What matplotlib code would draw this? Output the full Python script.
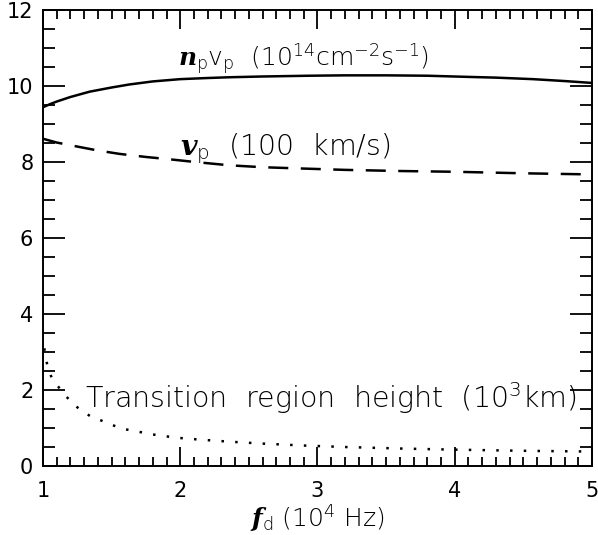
import matplotlib
matplotlib.use("Agg")
import matplotlib.pyplot as plt
from matplotlib.ticker import MultipleLocator

plt.rcParams["font.family"] = ["DejaVu Sans"]
plt.rcParams["font.weight"] = "light"
plt.rcParams["mathtext.fontset"] = "custom"
plt.rcParams["mathtext.rm"] = "DejaVu Sans:light"
plt.rcParams["mathtext.it"] = "DejaVu Serif:italic:bold"

# n_p v_p flux (10^14 cm^-2 s^-1)
flux_x = [1.0, 1.05, 1.1, 1.2, 1.34, 1.5, 1.63, 1.8, 2.0, 2.2, 2.36, 2.6, 2.94, 3.2,
          3.5, 3.8, 4.09, 4.3, 4.57, 4.8, 5.0]
flux_y = [9.45, 9.53, 9.6, 9.72, 9.86, 9.97, 10.05, 10.13, 10.19, 10.22, 10.24, 10.26,
          10.28, 10.29, 10.29, 10.28, 10.25, 10.23, 10.19, 10.14, 10.09]

# v_p (100 km/s)
vel_x = [1.0, 1.1, 1.27, 1.4, 1.56, 1.75, 1.92, 2.1, 2.36, 2.6, 2.85, 3.2, 3.6, 4.0,
         4.5, 5.0]
vel_y = [8.62, 8.52, 8.40, 8.31, 8.22, 8.14, 8.08, 8.01, 7.92, 7.87, 7.84, 7.80, 7.77,
         7.75, 7.71, 7.68]

# transition region height (10^3 km)
trh_x = [1.01, 1.02, 1.04, 1.07, 1.12, 1.17, 1.22, 1.28, 1.35, 1.43, 1.49, 1.57, 1.65,
         1.73, 1.80, 1.88, 1.96, 2.05, 2.20, 2.36, 2.60, 2.89, 3.2, 3.6, 4.0, 4.5, 5.0]
trh_y = [3.10, 2.84, 2.53, 2.27, 2.05, 1.83, 1.63, 1.46, 1.30, 1.19, 1.10, 0.99, 0.93,
         0.88, 0.83, 0.79, 0.75, 0.72, 0.68, 0.64, 0.59, 0.54, 0.50, 0.46, 0.43, 0.40,
         0.38]

fig = plt.figure(figsize=(5.98, 5.35), dpi=100)
ax = fig.add_axes([0.0719, 0.129, 0.918, 0.8515])

ax.plot(flux_x, flux_y, color="black", lw=1.8)
ax.plot(vel_x, vel_y, color="black", lw=1.8, dashes=(8, 5))
ax.plot(trh_x, trh_y, color="black", lw=1.8, dashes=(1, 4.5))

ax.set_xlim(1, 5)
ax.set_ylim(0, 12)
ax.xaxis.set_major_locator(MultipleLocator(1))
ax.xaxis.set_minor_locator(MultipleLocator(0.1))
ax.yaxis.set_major_locator(MultipleLocator(2))
ax.yaxis.set_minor_locator(MultipleLocator(0.5))

for side in ax.spines.values():
    side.set_linewidth(1.4)
ax.tick_params(axis="both", which="both", direction="in", top=True, right=True,
               width=1.3, labelsize=15)
ax.tick_params(axis="x", which="major", length=13.7, pad=11)
ax.tick_params(axis="x", which="minor", length=6.5)
ax.tick_params(axis="y", which="major", length=15.8, pad=7)
ax.tick_params(axis="y", which="minor", length=8.3)
for lab in ax.get_xticklabels() + ax.get_yticklabels():
    lab.set_fontweight("normal")

ax.set_xlabel(r"$\mathit{f}_\mathrm{d}$ (10$^4$ Hz)", fontsize=18, fontweight="light",
              labelpad=1)

ax.text(1.983, 10.54, r"$\mathit{n}_\mathrm{p}\mathrm{v}_\mathrm{p}$  (10$^{14}$cm$^{-2}$s$^{-1}$)",
        fontsize=18, va="baseline")
ax.text(1.998, 8.19, r"$\mathit{v}_\mathrm{p}$  (100  km/s)", fontsize=20.5, va="baseline")
ax.text(1.306, 1.53, r"Transition  region  height  (10$^3$km)", fontsize=20.5,
        va="baseline")

fig.savefig("out.png", dpi=100)
